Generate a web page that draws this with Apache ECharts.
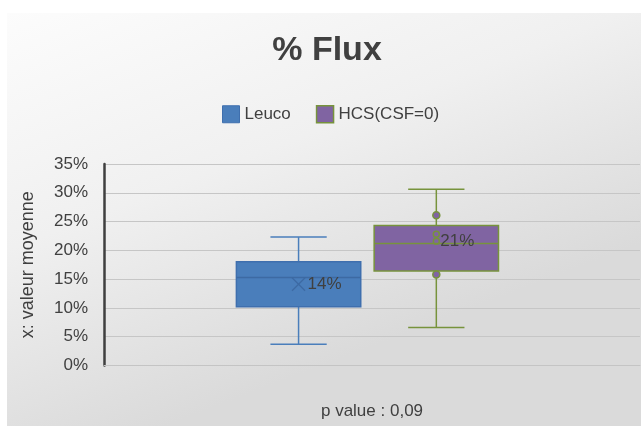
<!DOCTYPE html>
<html>
<head>
<meta charset="utf-8">
<script src="https://cdn.jsdelivr.net/npm/echarts@6/dist/echarts.min.js"></script>
<style>
html, body { margin: 0; padding: 0; background: #fff; }
#chart { width: 641px; height: 426px; }
</style>
</head>
<body>
<div id="chart"></div>
<script>
// données (en %)
const categories = ['p value : 0,09']
const seriesNames = ['Leuco', 'HCS(CSF=0)']
// min, q1, médiane, q3, max
const leucoBox = [3.7, 10.2, 15.3, 18.0, 22.3]
const leucoMean = 14.1
const leucoLabel = '14%'
const hcsBox = [6.6, 16.4, 21.2, 24.3, 30.6]
const hcsMean = 21.6
const hcsLabel = '21%'
const hcsPoints = [26.1, 15.8]
const hcsInnerPoints = [22.8]
const yMin = 0
const yMax = 35
const yStep = 5

const textColor = '#404040'
const font = '"Liberation Sans", Arial, sans-serif'

const makeRender = (cfg) => {
    return (params, api) => {
        const band = api.size([1, 0])[0]
        const cx = api.coord([0, 0])[0] + cfg.offset * band
        const half = band * 0.116
        const cap = band * 0.035
        const y = (v) => api.coord([0, v])[1]
        const [mn, q1, md, q3, mx] = [1, 2, 3, 4, 5].map(i => api.value(i))
        const mean = api.value(6)
        const line = (x1, y1, x2, y2, color, w) => ({
            type: 'line',
            shape: { x1, y1, x2, y2 },
            style: { stroke: color, lineWidth: w || 1.5 }
        })
        const children = [
            line(cx, y(mn), cx, y(q1), cfg.whisker),
            line(cx, y(q3), cx, y(mx), cfg.whisker),
            line(cx - cap * 1.5, y(mn), cx + cap * 1.5, y(mn), cfg.whisker),
            line(cx - cap * 1.5, y(mx), cx + cap * 1.5, y(mx), cfg.whisker),
            {
                type: 'rect',
                shape: { x: cx - half, y: y(q3), width: half * 2, height: y(q1) - y(q3) },
                style: { fill: cfg.fill, stroke: cfg.border, lineWidth: 1.5 }
            },
            line(cx - half, y(md), cx + half, y(md), cfg.median)
        ]
        const my = y(mean)
        if (cfg.meanShape === 'cross') {
            children.push(line(cx - 6.5, my - 6.5, cx + 6.5, my + 6.5, cfg.median, 1.3))
            children.push(line(cx - 6.5, my + 6.5, cx + 6.5, my - 6.5, cfg.median, 1.3))
        } else {
            children.push({
                type: 'circle',
                shape: { cx, cy: my, r: 3 },
                style: { fill: 'none', stroke: cfg.whisker, lineWidth: 1.5 }
            })
        }
        ;(cfg.inner || []).forEach(v => {
            children.push({
                type: 'circle',
                shape: { cx, cy: y(v), r: 3 },
                style: { fill: 'none', stroke: cfg.whisker, lineWidth: 1.5 }
            })
        })
        ;(cfg.points || []).forEach(v => {
            children.push({
                type: 'circle',
                shape: { cx, cy: y(v), r: 3.5 },
                style: { fill: cfg.fill, stroke: cfg.whisker, lineWidth: 1.5 }
            })
        })
        children.push({
            type: 'text',
            style: {
                x: cx + cfg.labelGap,
                y: my,
                text: cfg.label,
                fill: textColor,
                font: '17px ' + font,
                verticalAlign: 'middle',
                align: 'left'
            }
        })
        return { type: 'group', children }
    }
}

const chart = echarts.init(document.getElementById('chart'))

const option = {
    animation: false,
    graphic: [{
        type: 'rect',
        z: -10,
        silent: true,
        shape: { x: 7, y: 13, width: 634, height: 413 },
        style: {
            fill: new echarts.graphic.LinearGradient(0, 0, 0.25, 1, [
                { offset: 0, color: '#fcfcfc' },
                { offset: 0.5, color: '#f0f0f0' },
                { offset: 1, color: '#dadada' }
            ])
        }
    }],
    title: {
        text: '% Flux',
        left: 322,
        textAlign: 'center',
        top: 29,
        textStyle: { fontSize: 34, fontWeight: 'bold', color: textColor, fontFamily: font }
    },
    legend: {
        left: 217,
        top: 100,
        icon: 'rect',
        itemWidth: 17,
        itemHeight: 17,
        itemGap: 25,
        textStyle: { fontSize: 17, color: textColor, fontFamily: font },
        data: [
            { name: seriesNames[0], itemStyle: { color: '#4a7ebb', borderColor: '#3f6fae', borderWidth: 1 } },
            { name: seriesNames[1], itemStyle: { color: '#8064a2', borderColor: '#77933c', borderWidth: 1.5 } }
        ]
    },
    grid: { left: 104, right: 1, top: 164, bottom: 60.5 },
    xAxis: {
        type: 'category',
        data: categories,
        axisTick: { show: false },
        axisLine: { lineStyle: { color: '#c4c4c4', width: 1 } },
        axisLabel: { margin: 37, fontSize: 17, color: textColor, fontFamily: font }
    },
    yAxis: {
        type: 'value',
        min: yMin,
        max: yMax,
        interval: yStep,
        name: 'x: valeur moyenne',
        nameLocation: 'middle',
        nameGap: 67,
        nameTextStyle: { fontSize: 18, color: textColor, fontFamily: font },
        axisLine: { show: true, lineStyle: { color: '#3f3f3f', width: 2.5 } },
        axisTick: { show: false },
        axisLabel: { margin: 16, fontSize: 17, color: textColor, fontFamily: font, formatter: v => v + '%' },
        splitLine: { lineStyle: { color: '#c6c6c6', width: 1 } }
    },
    series: [
        {
            name: seriesNames[0],
            type: 'custom',
            itemStyle: { color: '#4a7ebb' },
            encode: { x: 0, y: [1, 2, 3, 4, 5, 6] },
            data: [[0, ...leucoBox, leucoMean]],
            renderItem: makeRender({
                offset: -0.137, fill: '#4a7ebb', border: '#3f6fae', whisker: '#4a7ebb',
                median: '#3d6aa3', meanShape: 'cross', label: leucoLabel, labelGap: 9
            })
        },
        {
            name: seriesNames[1],
            type: 'custom',
            itemStyle: { color: '#8064a2' },
            encode: { x: 0, y: [1, 2, 3, 4, 5, 6] },
            data: [[0, ...hcsBox, hcsMean]],
            renderItem: makeRender({
                offset: 0.120, fill: '#8064a2', border: '#77933c', whisker: '#77933c',
                median: '#77933c', meanShape: 'circle', label: hcsLabel, labelGap: 4,
                points: hcsPoints, inner: hcsInnerPoints
            })
        }
    ]
}

chart.setOption(option)
</script>
</body>
</html>
